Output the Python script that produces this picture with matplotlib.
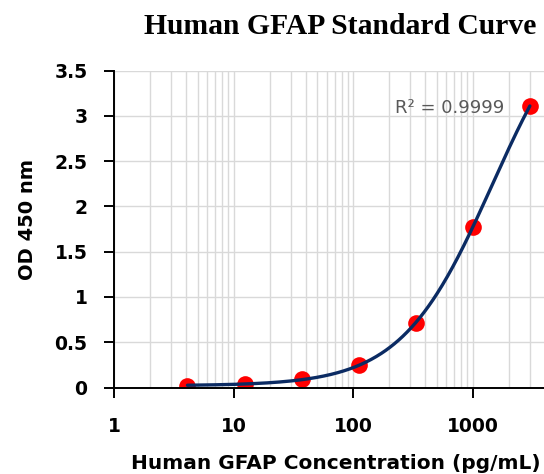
import numpy as np
import matplotlib
matplotlib.use("Agg")
import matplotlib.pyplot as plt
from matplotlib.ticker import LogLocator, NullFormatter, FixedLocator

# ---- data ----
conc = [4.115, 12.35, 37.04, 111.1, 333.3, 1000, 3000]
od = [0.02, 0.04, 0.09, 0.25, 0.71, 1.77, 3.11]
x_ticks = [1, 10, 100, 1000]
x_tick_labels = ["1", "10", "100", "1000"]
y_ticks = [0, 0.5, 1, 1.5, 2, 2.5, 3, 3.5]
y_tick_labels = ["0", "0.5", "1", "1.5", "2", "2.5", "3", "3.5"]
title = "Human GFAP Standard Curve"
xlabel = "Human GFAP Concentration (pg/mL)"
ylabel = "OD 450 nm"
r2_text = "R² = 0.9999"

# ---- 4PL fit of the data (trendline) ----
xa = np.array(conc, float)
ya = np.array(od, float)
best = None
for lc in np.linspace(np.log10(200), np.log10(20000), 300):
    c = 10 ** lc
    for b in np.linspace(0.6, 3.0, 121):
        g = 1.0 / (1.0 + (xa / c) ** b)
        A = np.vstack([g, 1 - g]).T
        coef, *_ = np.linalg.lstsq(A, ya, rcond=None)
        res = np.sum((A @ coef - ya) ** 2)
        if best is None or res < best[0]:
            best = (res, coef[0], coef[1], b, c)
_, pa, pd_, pb, pc = best
xs = np.logspace(np.log10(xa.min()), np.log10(xa.max()), 400)
ys = pd_ + (pa - pd_) / (1 + (xs / pc) ** pb)

# ---- figure ----
W, H = 544, 474
fig = plt.figure(figsize=(W / 100, H / 100), dpi=100)
ax = fig.add_axes([114 / W, 1 - 387.5 / H, 1 - 114 / W, (387.5 - 70.5) / H])
ax.set_xscale("log")
ax.set_xlim(1, 10 ** ((544 - 114) / 119.6))
ax.set_ylim(0, 3.5)

grid_c = "#D9D9D9"
ax.grid(True, which="major", axis="both", color=grid_c, lw=1.0)
ax.grid(True, which="minor", axis="x", color=grid_c, lw=1.0)
ax.set_axisbelow(True)

ax.plot(xs, ys, color="#0B2B63", lw=2.4, zorder=3, solid_capstyle="round")
ax.plot(conc, od, "o", color="#FF0000", ms=12, mec="none", zorder=2)

for s in ["top", "right"]:
    ax.spines[s].set_visible(False)
for s in ["left", "bottom"]:
    ax.spines[s].set_color("black")
    ax.spines[s].set_linewidth(1.4)

tick_font = dict(family="DejaVu Sans", weight="bold", size=13.5)
ax.xaxis.set_major_locator(FixedLocator(x_ticks))
ax.set_xticklabels(x_tick_labels, **tick_font)
ax.xaxis.set_minor_locator(LogLocator(base=10, subs=np.arange(2, 10)))
ax.xaxis.set_minor_formatter(NullFormatter())
ax.set_yticks(y_ticks)
ax.set_yticklabels(y_tick_labels, **tick_font)
ax.tick_params(axis="x", which="major", direction="out", length=7, width=1.4, pad=14)
ax.tick_params(axis="x", which="minor", length=0)
ax.tick_params(axis="y", which="major", direction="out", length=7, width=1.4, pad=12)

fig.text(340 / W, 1 - 34.3 / H, title, ha="center", va="baseline",
         family="Liberation Serif", weight="bold", size=21.3)
fig.text(336 / W, 1 - 469 / H, xlabel, ha="center", va="baseline",
         family="DejaVu Sans", weight="bold", size=14.5)
fig.text(33 / W, 1 - 220 / H, ylabel, ha="center", va="baseline", rotation=90,
         rotation_mode="anchor", family="DejaVu Sans", weight="bold", size=14)
fig.text(504 / W, 1 - 113 / H, r2_text, ha="right", va="baseline",
         family="DejaVu Sans", size=13, color="#595959")

fig.savefig("out.png", dpi=100)
